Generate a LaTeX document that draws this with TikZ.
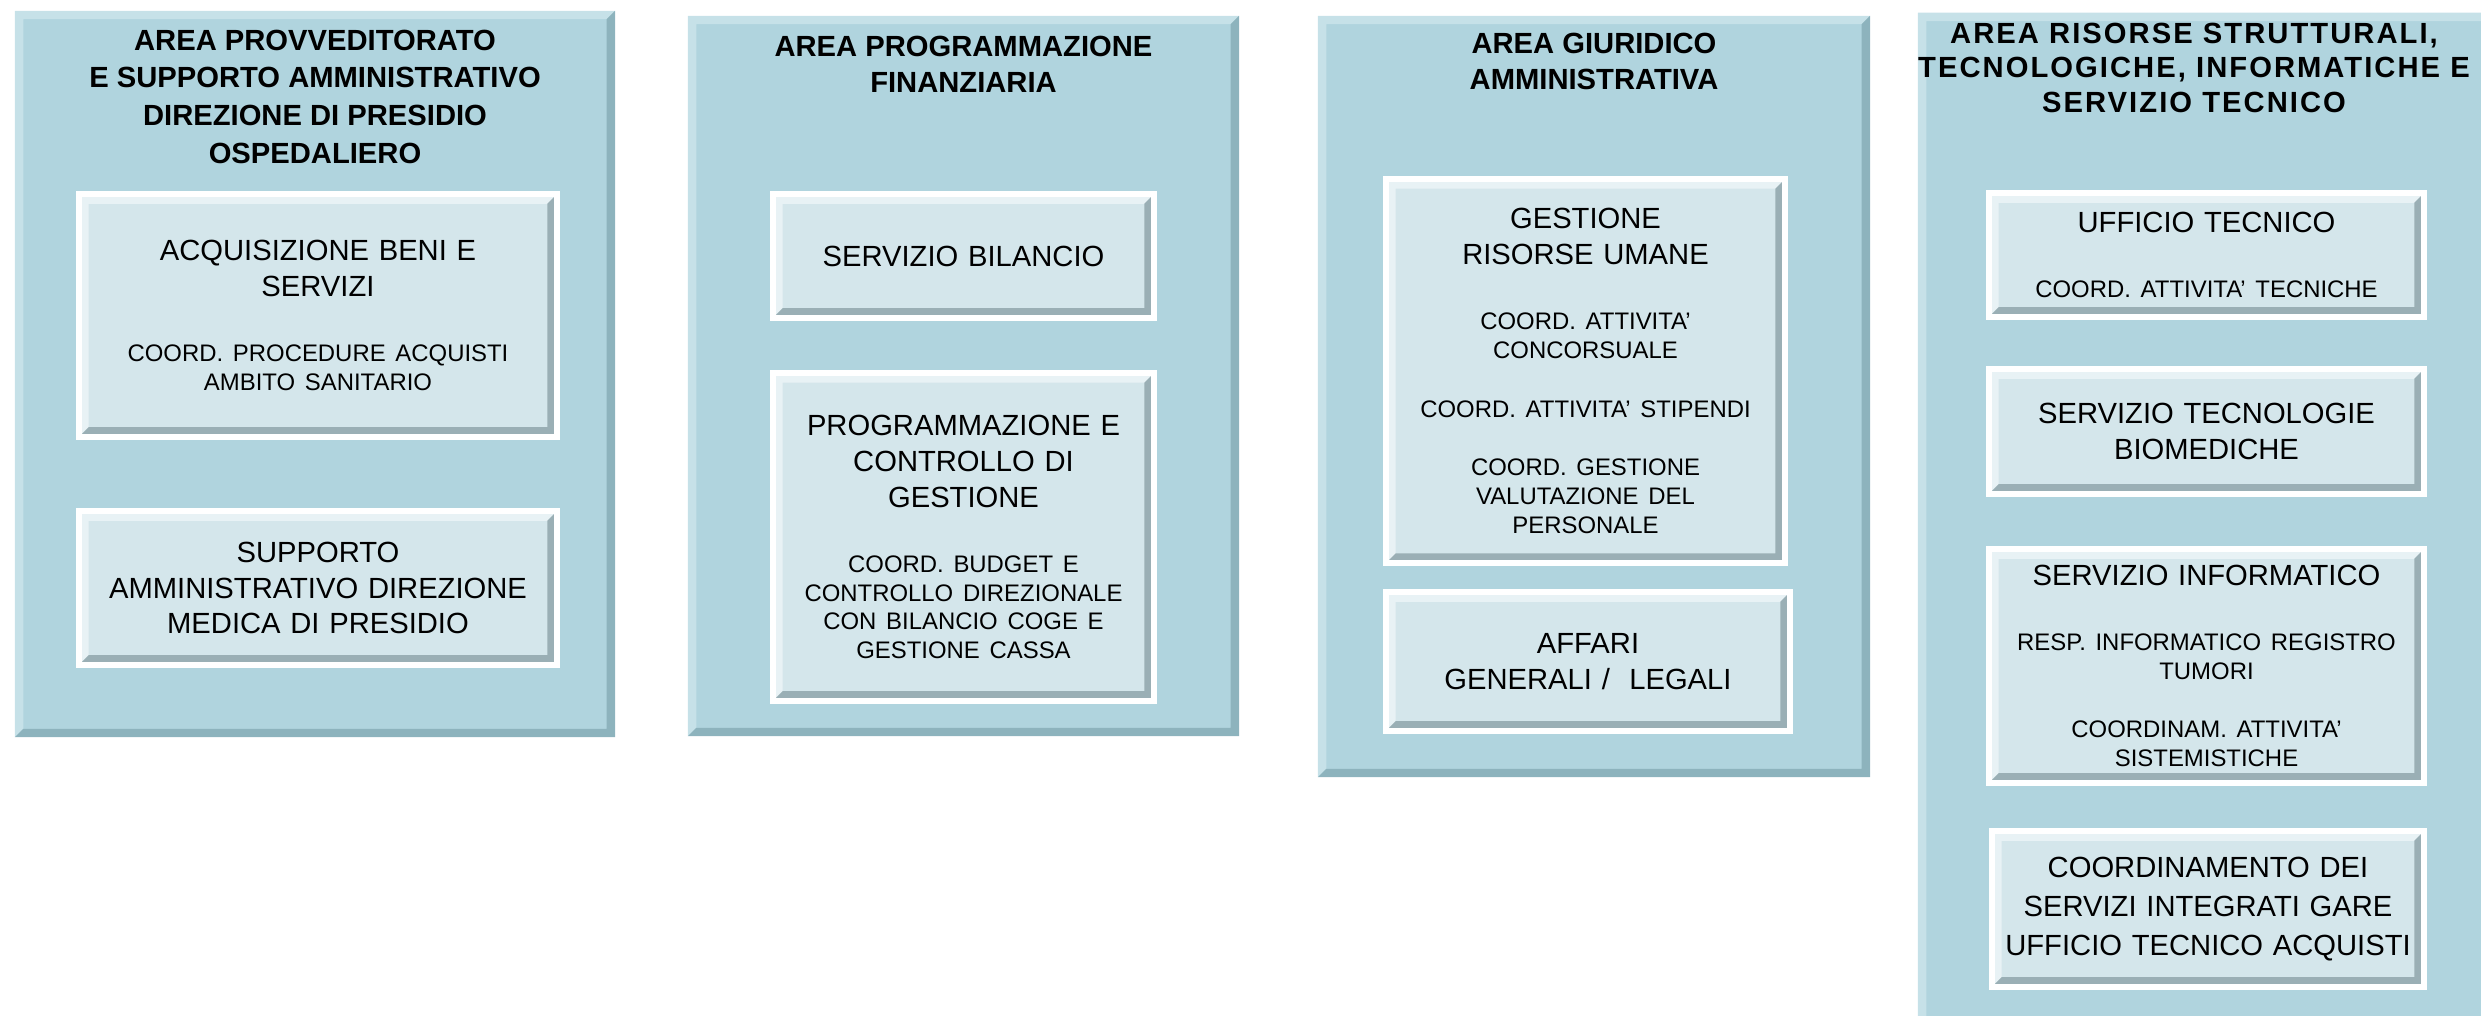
\documentclass[tikz,border=0pt]{standalone}
\usepackage{fontspec}
\setmainfont{Liberation Sans}
\usetikzlibrary{positioning}

\newcommand{\maintxt}{\fontsize{8.3}{10.2}\selectfont}
\newcommand{\subtxt}{\fontsize{6.8}{8.2}\selectfont}
\newcommand{\gap}{\par\vspace{8.4pt}}
\newcommand{\subgap}{\par\vspace{10.3pt}\subtxt}

% bevelled edges inside a node: #1 width, #2 light side, #3 dark side
\newcommand{\bevel}[3]{%
  \fill[#2] (path picture bounding box.south west) |- (path picture bounding box.north east)
     -- ++(-#1,-#1) -| ([shift={(#1,#1)}]path picture bounding box.south west) -- cycle;
  \fill[#3] (path picture bounding box.south west) -| (path picture bounding box.north east)
     -- ++(-#1,-#1) |- ([shift={(#1,#1)}]path picture bounding box.south west) -- cycle;}

\begin{document}
\begin{tikzpicture}[x=0.01cm, y=0.01cm]
\definecolor{area fill}{HTML}{B0D4DE}
\definecolor{area light}{HTML}{C6E1E8}
\definecolor{area dark}{HTML}{8DB3BD}
\definecolor{unit fill}{HTML}{D4E6EB}
\definecolor{unit light}{HTML}{E8F2F5}
\definecolor{unit dark}{HTML}{9AAFB5}
\tikzset{
     areabox/.style={fill=area fill, inner sep=0pt, path picture={\bevel{2.4pt}{area light}{area dark}}},
     areatitle/.style={font=\bfseries\fontsize{8.3}{10.4}\selectfont, align=center, inner sep=0pt, anchor=north},
     unitbox/.style={text width=#1, fill=unit fill, draw=white, line width=1.7pt, inner xsep=0.03cm, inner ysep=0pt,
                     align=center, font=\maintxt, path picture={\bevel{2.8pt}{unit light}{unit dark}}}}

\useasboundingbox (0,0) rectangle (2481,-1016);

% The areas
\node (provv)    [areabox, minimum width=6.00cm, minimum height=7.26cm] at (315,-374) {};
\node (finanza)  [areabox, minimum width=5.51cm, minimum height=7.20cm] at (963.5,-376) {};
\node (giurid)   [areabox, minimum width=5.52cm, minimum height=7.61cm] at (1594,-396.5) {};
\node (risorse)  [areabox, minimum width=5.72cm, minimum height=10.12cm] at (2204,-519) {};

% The area titles
\node (provvtitle) at ([yshift=-0.19cm]provv.north) [areatitle, font=\bfseries\fontsize{8.3}{10.7}\selectfont]
  {AREA PROVVEDITORATO\\ E SUPPORTO AMMINISTRATIVO\\ DIREZIONE DI PRESIDIO\\ OSPEDALIERO};
\node (finanzatitle) at ([yshift=-0.2cm]finanza.north) [areatitle]
  {AREA PROGRAMMAZIONE\\ FINANZIARIA};
\node (giuridtitle) at ([yshift=-0.17cm]giurid.north) [areatitle]
  {AREA GIURIDICO\\ AMMINISTRATIVA};
\node (risorsetitle) at ([xshift=-0.1cm, yshift=-0.1cm]risorse.north)
  [areatitle, font=\bfseries\fontsize{8.3}{9.8}\selectfont\addfontfeatures{LetterSpace=7}]
  {AREA RISORSE STRUTTURALI,\\ TECNOLOGICHE, INFORMATICHE E\\ SERVIZIO TECNICO};

% The units
\node (acquisti) [unitbox=4.72cm, minimum height=2.43cm] at (318,-315.5)
  {ACQUISIZIONE BENI E\\ SERVIZI\subgap COORD. PROCEDURE ACQUISTI\\ AMBITO SANITARIO\par};
\node (supporto) [unitbox=4.72cm, minimum height=1.54cm] at (318,-588)
  {SUPPORTO\\ AMMINISTRATIVO DIREZIONE\\ MEDICA DI PRESIDIO};

\node (bilancio) [unitbox=3.75cm, minimum height=1.24cm] at (963.5,-256)
  {SERVIZIO BILANCIO};
\node (controllo) [unitbox=3.75cm, minimum height=3.28cm] at (963.5,-537)
  {PROGRAMMAZIONE E\\ CONTROLLO DI\\ GESTIONE\subgap COORD. BUDGET E\\ CONTROLLO DIREZIONALE\\
   CON BILANCIO COGE E\\ GESTIONE CASSA\par};

\node (personale) [unitbox=3.93cm, minimum height=3.84cm] at (1585.5,-371)
  {GESTIONE\\ RISORSE UMANE\subgap COORD. ATTIVITA’\\ CONCORSUALE\gap COORD. ATTIVITA’ STIPENDI\gap
   COORD. GESTIONE\\ VALUTAZIONE DEL\\ PERSONALE\par};
\node (affari) [unitbox=3.98cm, minimum height=1.39cm] at (1588,-661.5)
  {AFFARI\\ GENERALI /\ \ LEGALI};

\node (ufftecnico) [unitbox=4.29cm, minimum height=1.24cm] at (2206.5,-255)
  {UFFICIO TECNICO\subgap COORD. ATTIVITA’ TECNICHE\par};
\node (biomed) [unitbox=4.29cm, minimum height=1.25cm] at (2206.5,-431.5)
  {SERVIZIO TECNOLOGIE\\ BIOMEDICHE};
\node (informatico) [unitbox=4.29cm, minimum height=2.34cm] at (2206.5,-666)
  {SERVIZIO INFORMATICO\subgap RESP. INFORMATICO REGISTRO\\ TUMORI\gap COORDINAM. ATTIVITA’\\ SISTEMISTICHE\par};
\node (gare) [unitbox=4.26cm, minimum height=1.56cm, font=\fontsize{8.3}{11.2}\selectfont] at (2208,-909)
  {COORDINAMENTO DEI\\ SERVIZI INTEGRATI GARE\\ UFFICIO TECNICO ACQUISTI};
\end{tikzpicture}
\end{document}
